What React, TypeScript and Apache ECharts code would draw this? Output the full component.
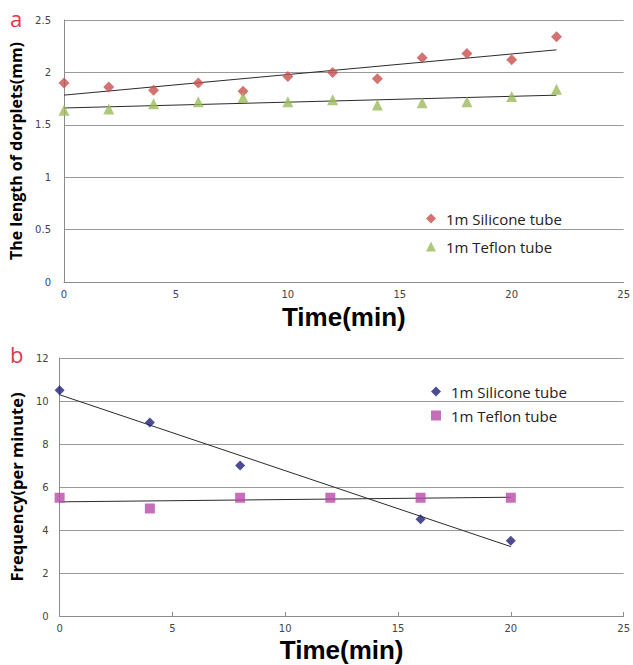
import React, { useEffect, useRef } from "react";
import * as echarts from "echarts";

// Chart a: droplet length (mm) vs time (min)
const timeA = [0, 2, 4, 6, 8, 10, 12, 14, 16, 18, 20, 22];
const siliconeA = [1.9, 1.86, 1.83, 1.9, 1.82, 1.96, 2.0, 1.94, 2.14, 2.18, 2.12, 2.34];
const teflonA = [1.64, 1.65, 1.7, 1.72, 1.76, 1.72, 1.74, 1.69, 1.71, 1.72, 1.77, 1.84];

// Chart b: frequency (per minute) vs time (min)
const timeSiliconeB = [0, 4, 8, 16, 20];
const siliconeB = [10.5, 9, 7, 4.5, 3.5];
const timeTeflonB = [0, 4, 8, 12, 16, 20];
const teflonB = [5.5, 5, 5.5, 5.5, 5.5, 5.5];

const seriesNames = ["1m Silicone tube", "1m Teflon tube"];
const xTicks = [0, 25, 5];

function fit(xs: number[], ys: number[]): number[][] {
  const n = xs.length;
  const mx = xs.reduce((a, b) => a + b, 0) / n;
  const my = ys.reduce((a, b) => a + b, 0) / n;
  let sxy = 0;
  let sxx = 0;
  for (let i = 0; i < n; i++) {
    sxy += (xs[i] - mx) * (ys[i] - my);
    sxx += (xs[i] - mx) * (xs[i] - mx);
  }
  const k = sxy / sxx;
  const b = my - k * mx;
  const x0 = xs[0];
  const x1 = xs[n - 1];
  return [
    [x0, b + k * x0],
    [x1, b + k * x1],
  ];
}

const pairs = (xs: number[], ys: number[]) => xs.map((x, i) => [x, ys[i]]);

export default function App() {
  const ref = useRef<HTMLDivElement>(null);
  useEffect(() => {
    if (!ref.current) return;
    const chart = echarts.init(ref.current, null, { renderer: "svg" });
    const font = "'Open Sans', 'Noto Sans', sans-serif";
    const nameFont = "'Liberation Sans', Arial, sans-serif";
    const tickFont = "'DejaVu Sans', Verdana, sans-serif";
    const gridLine = { show: true, lineStyle: { color: "#9a9a9a", width: 1 } };
    const axisLine = { show: true, lineStyle: { color: "#8c8c8c", width: 1 } };
    const trendStyle = { color: "#2b2b2b", width: 1 };
    const tickLabel = { fontFamily: tickFont, fontSize: 10, color: "#444", margin: 7 };
    const xNameStyle = { fontFamily: nameFont, fontSize: 26, lineHeight: 29, fontWeight: "bold", color: "#000" };
    const legendCommon = {
      orient: "vertical" as const,
      itemWidth: 10,
      itemHeight: 10,
      textStyle: { fontFamily: font, fontSize: 15, color: "#222", padding: [0, 0, 0, 5] },
      formatter: (name: string) => name.replace(/^[ab]: /, ""),
    };
    chart.setOption({
      animation: false,
      backgroundColor: "#fff",
      grid: [
        { left: 64, right: 8, top: 20, height: 262 },
        { left: 59, right: 8, top: 358, height: 258 },
      ],
      xAxis: [
        {
          gridIndex: 0,
          type: "value",
          min: xTicks[0],
          max: xTicks[1],
          interval: xTicks[2],
          axisLine,
          axisTick: { show: false },
          splitLine: { show: false },
          axisLabel: tickLabel,
          name: "Time(min)",
          nameLocation: "middle",
          nameGap: 20,
          nameTextStyle: xNameStyle,
        },
        {
          gridIndex: 1,
          type: "value",
          min: xTicks[0],
          max: xTicks[1],
          interval: xTicks[2],
          axisLine,
          axisTick: { show: true, inside: true, length: 4, lineStyle: { color: "#8c8c8c" } },
          splitLine: { show: false },
          axisLabel: tickLabel,
          name: "Time(min)",
          nameLocation: "middle",
          nameGap: 19,
          nameTextStyle: xNameStyle,
        },
      ],
      yAxis: [
        {
          gridIndex: 0,
          type: "value",
          min: 0,
          max: 2.5,
          interval: 0.5,
          axisLine,
          axisTick: { show: false },
          splitLine: gridLine,
          axisLabel: { ...tickLabel, margin: 13 },
          name: "The length of dorplets(mm)",
          nameLocation: "middle",
          nameGap: 36,
          nameTextStyle: { fontFamily: font, fontSize: 16, fontWeight: "bold", color: "#000" },
        },
        {
          gridIndex: 1,
          type: "value",
          min: 0,
          max: 12,
          interval: 2,
          axisLine,
          axisTick: { show: false },
          splitLine: gridLine,
          axisLabel: { ...tickLabel, margin: 11 },
          name: "Frequency(per minute)",
          nameLocation: "middle",
          nameGap: 31,
          nameTextStyle: { fontFamily: font, fontSize: 16.5, fontWeight: "bold", color: "#000" },
        },
      ],
      legend: [
        {
          ...legendCommon,
          left: 421,
          top: 206,
          itemGap: 13,
          data: [
            { name: "a: " + seriesNames[0], icon: "diamond" },
            { name: "a: " + seriesNames[1], icon: "triangle" },
          ],
        },
        {
          ...legendCommon,
          left: 426,
          top: 379,
          itemGap: 9,
          data: [
            { name: "b: " + seriesNames[0], icon: "diamond" },
            { name: "b: " + seriesNames[1], icon: "rect" },
          ],
        },
      ],
      graphic: [
        { type: "text", left: 10, top: 7, style: { text: "a", fontFamily: font, fontSize: 22, fill: "#e8344c" } },
        { type: "text", left: 10, top: 343, style: { text: "b", fontFamily: font, fontSize: 22, fill: "#e8344c" } },
      ],
      series: [
        {
          name: "a: " + seriesNames[0] + " trend",
          type: "line",
          xAxisIndex: 0,
          yAxisIndex: 0,
          data: fit(timeA, siliconeA),
          showSymbol: false,
          silent: true,
          lineStyle: trendStyle,
          z: 1,
        },
        {
          name: "a: " + seriesNames[1] + " trend",
          type: "line",
          xAxisIndex: 0,
          yAxisIndex: 0,
          data: fit(timeA, teflonA),
          showSymbol: false,
          silent: true,
          lineStyle: trendStyle,
          z: 1,
        },
        {
          name: "a: " + seriesNames[0],
          type: "scatter",
          xAxisIndex: 0,
          yAxisIndex: 0,
          data: pairs(timeA, siliconeA),
          symbol: "diamond",
          symbolSize: 11,
          itemStyle: { color: "#c8504e" },
          z: 3,
        },
        {
          name: "a: " + seriesNames[1],
          type: "scatter",
          xAxisIndex: 0,
          yAxisIndex: 0,
          data: pairs(timeA, teflonA),
          symbol: "triangle",
          symbolSize: 11,
          itemStyle: { color: "#9bbb59" },
          z: 3,
        },
        {
          name: "b: " + seriesNames[0] + " trend",
          type: "line",
          xAxisIndex: 1,
          yAxisIndex: 1,
          data: fit(timeSiliconeB, siliconeB),
          showSymbol: false,
          silent: true,
          lineStyle: trendStyle,
          z: 1,
        },
        {
          name: "b: " + seriesNames[1] + " trend",
          type: "line",
          xAxisIndex: 1,
          yAxisIndex: 1,
          data: fit(timeTeflonB, teflonB),
          showSymbol: false,
          silent: true,
          lineStyle: trendStyle,
          z: 1,
        },
        {
          name: "b: " + seriesNames[0],
          type: "scatter",
          xAxisIndex: 1,
          yAxisIndex: 1,
          data: pairs(timeSiliconeB, siliconeB),
          symbol: "diamond",
          symbolSize: 10,
          itemStyle: { color: "#1f1f78" },
          z: 3,
        },
        {
          name: "b: " + seriesNames[1],
          type: "scatter",
          xAxisIndex: 1,
          yAxisIndex: 1,
          data: pairs(timeTeflonB, teflonB),
          symbol: "rect",
          symbolSize: 10,
          itemStyle: { color: "#b94aaa" },
          z: 3,
        },
      ],
    });
    return () => chart.dispose();
  }, []);
  return <div ref={ref} style={{ width: 633, height: 665, position: "absolute", left: 0, top: 0 }} />;
}
